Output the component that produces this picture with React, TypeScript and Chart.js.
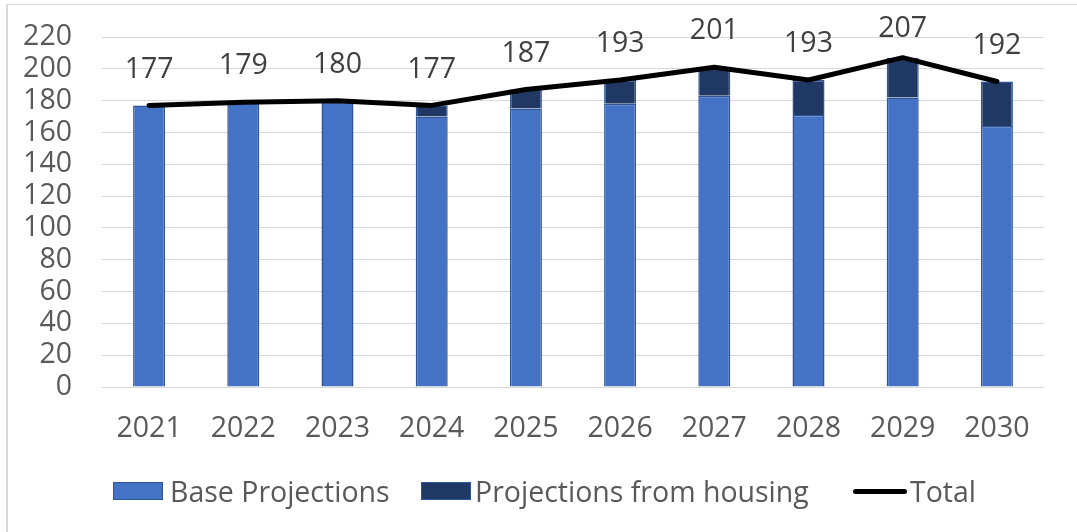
import React, { useEffect, useRef } from "react";
import { Chart, registerables } from "chart.js";

Chart.register(...registerables);

const categories = ["2021", "2022", "2023", "2024", "2025", "2026", "2027", "2028", "2029", "2030"];
const baseProjections = [177, 179, 180, 170, 175, 178, 183, 171, 182, 164];
const housingProjections = [0, 0, 0, 7, 12, 15, 18, 22, 25, 28];
const totals = [177, 179, 180, 177, 187, 193, 201, 193, 207, 192];
const yMin = 0;
const yMax = 220;
const yStep = 20;

const FONT = "'Open Sans', Lato, sans-serif";
const FS = 28.5;
const TEXT = "#595959";
const LABEL = "#404040";
const BASE = "#4472C4";
const DARK = "#203864";
const EDGE = "#2F5597";
const GRID = "#D9D9D9";

const lineLabels = {
  id: "lineLabels",
  afterDatasetsDraw(chart: any) {
    const meta = chart.getDatasetMeta(2);
    const ctx = chart.ctx;
    ctx.save();
    ctx.font = `${FS}px ${FONT}`;
    ctx.fillStyle = LABEL;
    ctx.textAlign = "center";
    ctx.textBaseline = "middle";
    meta.data.forEach((pt: any, i: number) => {
      const y = Math.max(pt.y - 36, 29);
      ctx.fillText(String(totals[i]), pt.x, y);
    });
    ctx.restore();
  },
};

export default function App() {
  const ref = useRef<HTMLCanvasElement | null>(null);

  useEffect(() => {
    if (!ref.current) return;
    const chart = new Chart(ref.current, {
      type: "bar",
      data: {
        labels: categories,
        datasets: [
          {
            type: "bar",
            label: "Base Projections",
            data: baseProjections,
            backgroundColor: BASE,
            borderColor: EDGE,
            borderWidth: 1.5,
            stack: "s",
            order: 1,
            barPercentage: 0.34,
            categoryPercentage: 1,
          },
          {
            type: "bar",
            label: "Projections from housing",
            data: housingProjections.map((v) => (v === 0 ? null : v)),
            backgroundColor: DARK,
            borderColor: EDGE,
            borderWidth: 1.5,
            stack: "s",
            order: 1,
            barPercentage: 0.34,
            categoryPercentage: 1,
          },
          {
            type: "line",
            label: "Total",
            data: totals,
            borderColor: "#000000",
            backgroundColor: "#000000",
            borderWidth: 5,
            pointRadius: 0,
            tension: 0,
            borderCapStyle: "round",
            borderJoinStyle: "round",
            stack: "line",
            order: 0,
          } as any,
        ],
      },
      options: {
        responsive: false,
        animation: false,
        layout: { padding: { left: 0, right: 33, top: 37, bottom: 85 } },
        plugins: {
          legend: { display: false },
          tooltip: { enabled: false },
        },
        scales: {
          x: {
            stacked: true,
            grid: { display: false, drawTicks: false },
            border: { display: false },
            ticks: { color: TEXT, font: { family: FONT, size: FS }, padding: 25, maxRotation: 0, autoSkip: false },
            afterFit: (s: any) => {
              s.height = 60;
            },
          },
          y: {
            stacked: true,
            min: yMin,
            max: yMax,
            grid: { color: GRID, lineWidth: 1, drawTicks: false },
            border: { display: false },
            ticks: { stepSize: yStep, color: TEXT, font: { family: FONT, size: FS }, padding: 30, autoSkip: false },
            afterFit: (s: any) => {
              s.width = 102;
              s.paddingTop = 0;
              s.paddingBottom = 0;
            },
          },
        },
      },
      plugins: [lineLabels],
    });
    return () => chart.destroy();
  }, []);

  const legendText: React.CSSProperties = {
    position: "absolute",
    top: 473,
    height: 36,
    lineHeight: "36px",
    fontFamily: FONT,
    fontSize: FS,
    color: TEXT,
    whiteSpace: "nowrap",
  };
  const box = (left: number, color: string): React.CSSProperties => ({
    position: "absolute",
    left,
    top: 482,
    width: 50,
    height: 18,
    boxSizing: "border-box",
    background: color,
    border: `1.5px solid ${EDGE}`,
  });

  return (
    <div style={{ position: "fixed", left: 0, top: 0, width: 1077, height: 532, background: "#fff", overflow: "hidden" }}>
      <div style={{ position: "absolute", left: 6, top: 4, right: -2, bottom: -2, borderLeft: `2px solid ${GRID}`, borderTop: `1px solid ${GRID}` }} />
      <canvas ref={ref} width={1077} height={532} style={{ position: "absolute", left: 0, top: 0, width: 1077, height: 532 }} />
      <div style={box(113, BASE)} />
      <div style={{ ...legendText, left: 170 }}>Base Projections</div>
      <div style={box(421, DARK)} />
      <div style={{ ...legendText, left: 475 }}>Projections from housing</div>
      <div style={{ position: "absolute", left: 853, top: 489, width: 54, height: 5, borderRadius: 3, background: "#000" }} />
      <div style={{ ...legendText, left: 910 }}>Total</div>
    </div>
  );
}
